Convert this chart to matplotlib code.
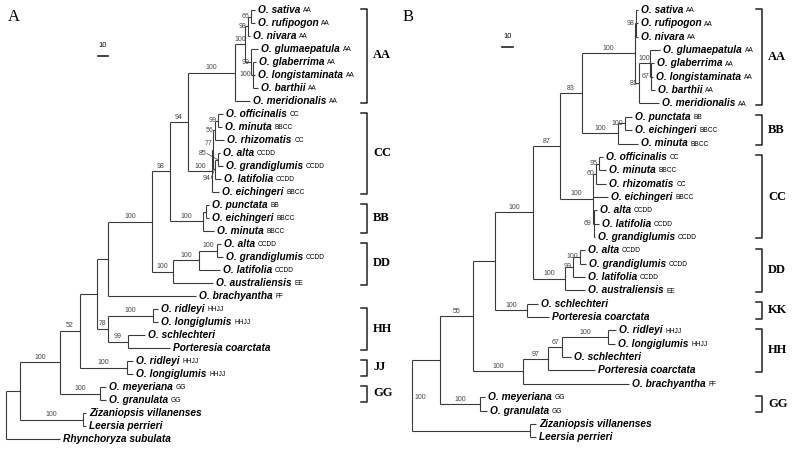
import matplotlib
matplotlib.use("Agg")
import matplotlib.pyplot as plt

# ---------------- tree A ----------------
A_node = ["root", "n2", "zl", "n3", "gg", "n4", "jj", "n5", "hh", "rl", "sp", "n6", "n7", "n8",
          "dd", "ag_lat", "ag", "bb", "pe", "n9", "aa", "aa2", "n98", "sr", "n99", "n100",
          "cc", "n77", "n56", "om", "n94", "n85"]
A_parent = [None, "root", "n2", "n2", "n3", "n3", "n4", "n4", "n5", "hh", "hh", "n5", "n6", "n7",
            "n7", "dd", "ag_lat", "n8", "bb", "n8", "n9", "aa", "aa2", "n98", "aa2", "n99",
            "n9", "cc", "n77", "n56", "n77", "n94"]
A_depth = [0, 14, 77, 54, 94, 74, 121, 91, 102, 147, 122, 102, 146, 164,
           167, 193, 211, 197, 200, 182, 229, 239, 242, 245, 245, 247,
           206, 207, 209, 212, 209, 212]
A_support = ["", "", "100", "100", "100", "52", "100", "", "78", "100", "99", "", "100", "98",
             "100", "100", "100", "100", "", "94", "100", "100", "98", "66", "99", "100",
             "100", "77", "56", "99", "94", "85"]

A_tip = ["O. sativa", "O. rufipogon", "O. nivara", "O. glumaepatula", "O. glaberrima",
         "O. longistaminata", "O. barthii", "O. meridionalis", "O. officinalis", "O. minuta",
         "O. rhizomatis", "O. alta", "O. grandiglumis", "O. latifolia", "O. eichingeri",
         "O. punctata", "O. eichingeri", "O. minuta", "O. alta", "O. grandiglumis",
         "O. latifolia", "O. australiensis", "O. brachyantha", "O. ridleyi", "O. longiglumis",
         "O. schlechteri", "Porteresia coarctata", "O. ridleyi", "O. longiglumis",
         "O. meyeriana", "O. granulata", "Zizaniopsis villanenses", "Leersia perrieri",
         "Rhynchoryza subulata"]
A_genome = ["AA", "AA", "AA", "AA", "AA", "AA", "AA", "AA", "CC", "BBCC", "CC", "CCDD", "CCDD",
            "CCDD", "BBCC", "BB", "BBCC", "BBCC", "CCDD", "CCDD", "CCDD", "EE", "FF", "HHJJ",
            "HHJJ", "", "", "HHJJ", "HHJJ", "GG", "GG", "", "", ""]
A_tip_parent = ["sr", "sr", "n98", "n99", "n100", "n100", "n100", "aa", "om", "om", "n56",
                "n85", "n85", "n94", "cc", "pe", "pe", "bb", "ag", "ag", "ag_lat", "dd", "n6",
                "rl", "rl", "sp", "sp", "jj", "jj", "gg", "gg", "zl", "zl", "root"]
A_tip_depth = [249, 249, 244, 252, 250, 249, 252, 244, 217, 216, 218, 214, 217, 215, 213,
               203, 203, 208, 215, 217, 214, 207, 190, 152, 152, 139, 164, 127, 127,
               100, 100, 80, 80, 54]

A_clade = ["AA", "CC", "BB", "DD", "HH", "JJ", "GG"]
A_clade_rows = [(0, 7), (8, 14), (15, 17), (18, 21), (23, 26), (27, 28), (29, 30)]

# ---------------- tree B ----------------
B_node = ["root", "n2", "zl", "n3", "gg", "n4", "hhb", "n97", "n67", "rl", "kk", "n5", "dd",
          "n99", "ag", "n6", "cc", "n60", "n95", "n69", "n7", "aa", "n98", "n81", "n100",
          "n67a", "bb", "pe"]
B_parent = [None, "root", "root", "n2", "n2", "n3", "n3", "hhb", "n97", "n67", "n4", "n4", "n5",
            "dd", "n99", "n5", "n6", "cc", "n60", "cc", "n6", "n7", "aa", "aa", "n81",
            "n100", "n7", "bb"]
B_depth = [0, 25.5, 107.3, 55.5, 61.8, 75.5, 100.9, 123.6, 136.4, 178.2, 104.5, 110, 139.1,
           146.4, 152.7, 134.5, 164.5, 167.3, 170, 165, 154.5, 202.7, 203.6, 206.4, 216.4,
           217.3, 187.3, 193.6]
B_support = ["100", "", "", "55", "100", "", "100", "97", "67", "100", "100", "100", "100",
             "99", "100", "87", "100", "60", "95", "69", "83", "100", "98", "81", "100",
             "67", "100", "100"]

B_tip = ["O. sativa", "O. rufipogon", "O. nivara", "O. glumaepatula", "O. glaberrima",
         "O. longistaminata", "O. barthii", "O. meridionalis", "O. punctata", "O. eichingeri",
         "O. minuta", "O. officinalis", "O. minuta", "O. rhizomatis", "O. eichingeri",
         "O. alta", "O. latifolia", "O. grandiglumis", "O. alta", "O. grandiglumis",
         "O. latifolia", "O. australiensis", "O. schlechteri", "Porteresia coarctata",
         "O. ridleyi", "O. longiglumis", "O. schlechteri", "Porteresia coarctata",
         "O. brachyantha", "O. meyeriana", "O. granulata", "Zizaniopsis villanenses",
         "Leersia perrieri"]
B_genome = ["AA", "AA", "AA", "AA", "AA", "AA", "AA", "AA", "BB", "BBCC", "BBCC", "CC", "BBCC",
            "CC", "BBCC", "CCDD", "CCDD", "CCDD", "CCDD", "CCDD", "CCDD", "EE", "", "",
            "HHJJ", "HHJJ", "", "", "FF", "GG", "GG", "", ""]
B_tip_parent = ["n98", "n98", "n98", "n100", "n67a", "n67a", "n67a", "n81", "pe", "pe", "bb",
                "n95", "n95", "n60", "cc", "n69", "n69", "n69", "ag", "ag", "n99", "dd",
                "kk", "kk", "rl", "rl", "n67", "n97", "hhb", "gg", "gg", "zl", "zl"]
B_tip_depth = [205.5, 205.5, 205.5, 225.5, 220, 219.1, 220.9, 224.5, 200, 200, 205.5,
               173.6, 176.4, 176.4, 178.2, 168.2, 170, 166.4, 157.3, 158.2, 157.3, 157.3,
               114.5, 124.5, 185.5, 184.5, 144.5, 166.4, 197.3, 66.4, 68.2, 112.7, 112.7]

B_clade = ["AA", "BB", "CC", "DD", "KK", "HH", "GG"]
B_clade_rows = [(0, 7), (8, 10), (11, 17), (18, 21), (22, 23), (24, 27), (29, 30)]

scale_len = 10

LINE = "#3a3a3a"
SANS = "Liberation Sans"
SERIF = "Liberation Serif"


def draw_tree(ax, nodes, parents, depths, supports, tips, genomes, tip_parents, tip_depths,
              x0, xs, y0, dy, nudge):
    nx = {n: x0 + d * xs for n, d in zip(nodes, depths)}
    par = dict(zip(nodes, parents))
    sup = dict(zip(nodes, supports))
    kids_y = {n: [] for n in nodes}
    ty = [y0 + i * dy for i in range(len(tips))]
    for i, p in enumerate(tip_parents):
        kids_y[p].append(ty[i])
    ny = {}

    def get_y(n):
        if n in ny:
            return ny[n]
        ys = list(kids_y[n])
        for m, pm in par.items():
            if pm == n:
                ys.append(get_y(m))
        ny[n] = (min(ys) + max(ys)) / 2
        ny[n + "_span"] = (min(ys), max(ys))
        return ny[n]

    for n in nodes:
        get_y(n)

    # tips
    for i, name in enumerate(tips):
        px = nx[tip_parents[i]]
        tx = x0 + tip_depths[i] * xs
        ax.plot([px, tx], [ty[i], ty[i]], color=LINE, lw=0.8, solid_capstyle="butt")
        t = ax.text(tx + 3, ty[i], name, fontsize=7.3, family=SANS, weight="bold",
                    style="italic", va="center", ha="left")
        if genomes[i]:
            ax.annotate(genomes[i], xy=(1, 0), xycoords=t, xytext=(2, 0.6),
                        textcoords="offset points", fontsize=4.8, family=SANS,
                        va="bottom", ha="left")

    # internal nodes
    for n in nodes:
        lo, hi = ny[n + "_span"]
        ax.plot([nx[n], nx[n]], [lo, hi], color=LINE, lw=0.8, solid_capstyle="butt")
        p = par[n]
        if p is not None:
            ax.plot([nx[p], nx[n]], [ny[n], ny[n]], color=LINE, lw=0.8, solid_capstyle="butt")
        s = sup[n]
        if not s:
            continue
        if n in nudge:
            dx, dyy, ha, leader = nudge[n]
            ax.text(nx[n] + dx, ny[n] + dyy, s, fontsize=5, family=SANS, color="#444444",
                    ha=ha, va="center")
            if leader:
                ax.plot([nx[n] + dx + (4 if dx < 0 else -4), nx[n] - 0.5],
                        [ny[n] + dyy, ny[n]], color=LINE, lw=0.5)
        elif p is not None and nx[n] - nx[p] >= 10:
            ax.text((nx[n] + nx[p]) / 2, ny[n] - 1.2, s, fontsize=5, family=SANS,
                    color="#444444", ha="center", va="bottom")
        else:
            ax.text(nx[n] - 1.5, ny[n], s, fontsize=5, family=SANS, color="#444444",
                    ha="right", va="center")
    return ty


def draw_brackets(ax, clades, rows, ty, bx, lx):
    for c, (a, b) in zip(clades, rows):
        top, bot = ty[a] - 1.5, ty[b] + 1.5
        ax.plot([bx - 6, bx, bx, bx - 6], [top, top, bot, bot], color="#222222", lw=1.1)
        ax.text(lx, (top + bot) / 2, c, fontsize=9, family=SERIF, weight="bold",
                ha="left", va="center")


fig = plt.figure(figsize=(7.92, 4.49), dpi=100)
ax = fig.add_axes([0, 0, 1, 1])
ax.set_xlim(0, 792)
ax.set_ylim(449, 0)
ax.axis("off")

tyA = draw_tree(ax, A_node, A_parent, A_depth, A_support, A_tip, A_genome, A_tip_parent,
                A_tip_depth, 6, 1.0, 10, 13.0,
                {"n77": (-1, -6, "right", False),
                 "n85": (-15, -6, "center", True), "n94": (-8, 9, "center", True)})
tyB = draw_tree(ax, B_node, B_parent, B_depth, B_support, B_tip, B_genome, B_tip_parent,
                B_tip_depth, 412, 1.1, 10, 13.35,
                {"root": (2, 2, "left", False)})

draw_brackets(ax, A_clade, A_clade_rows, tyA, 367, 373)
draw_brackets(ax, B_clade, B_clade_rows, tyB, 762, 768)

# scale bars
ax.plot([98, 98 + scale_len * 1.0], [56, 56], color="#222222", lw=1.2)
ax.text(103, 49, str(scale_len), fontsize=5.5, family=SANS, ha="center", va="bottom")
ax.plot([502, 502 + scale_len * 1.1], [47, 47], color="#222222", lw=1.2)
ax.text(507.5, 40, str(scale_len), fontsize=5.5, family=SANS, ha="center", va="bottom")

ax.text(14, 17, "A", fontsize=12, family=SERIF, ha="center", va="center")
ax.text(408, 17, "B", fontsize=12, family=SERIF, ha="center", va="center")

fig.savefig("out.png", dpi=100)
